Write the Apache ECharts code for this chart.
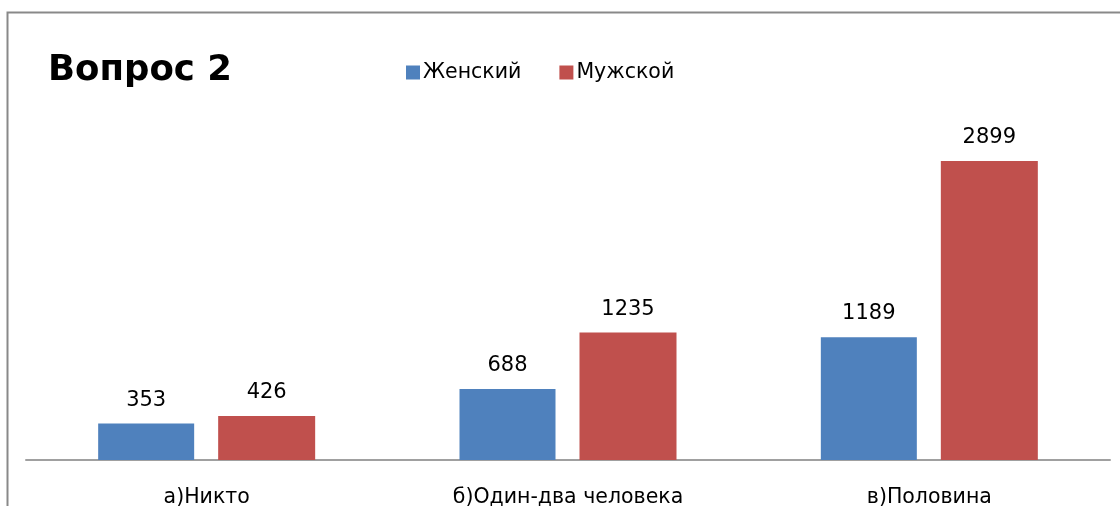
<!DOCTYPE html>
<html><head><meta charset="utf-8">
<script src="https://cdn.jsdelivr.net/npm/echarts@6/dist/echarts.min.js"></script>
<style>html,body{margin:0;padding:0;background:#fff}#c{width:1120px;height:506px}</style>
</head><body><div id="c"></div>
<script>
const categories = ['а)Никто', 'б)Один-два человека', 'в)Половина'];
const female = [353, 688, 1189];
const male = [426, 1235, 2899];
const seriesNames = ['Женский', 'Мужской'];

const chart = echarts.init(document.getElementById('c'));
const font = '"DejaVu Sans", sans-serif';
const lbl = {show: true, position: 'top', distance: 13, color: '#000', fontSize: 21, fontFamily: font};
chart.setOption({
  animation: false,
  backgroundColor: '#fff',
  graphic: [{type: 'rect', shape: {x: 7.5, y: 12.5, width: 1130, height: 520}, style: {fill: null, stroke: '#898989', lineWidth: 2}, z: -1}],
  title: {text: 'Вопрос 2', left: 43, top: 48, textStyle: {fontFamily: font, fontWeight: 'bold', fontSize: 35.5, color: '#000'}},
  legend: {left: 401, top: 57, itemWidth: 14, itemHeight: 14, itemGap: 38, icon: 'rect',
    textStyle: {fontFamily: font, fontSize: 20.5, color: '#000', padding: [0,0,0,-2]}, data: seriesNames},
  grid: {left: 26, right: 10, top: 99, bottom: 46, outerBoundsMode: 'none', containLabel: false},
  xAxis: {type: 'category', data: categories, axisLine: {lineStyle: {color: '#a0a0a0', width: 2}}, axisTick: {show: false},
    axisLabel: {color: '#000', fontSize: 20.5, fontFamily: font, margin: 27}},
  yAxis: {type: 'value', min: 0, max: 3500, show: false, splitLine: {show: false}},
  series: [
    {name: seriesNames[0], type: 'bar', data: female, itemStyle: {color: '#4F81BD'}, barWidth: 96, barGap: '25%', label: lbl},
    {name: seriesNames[1], type: 'bar', data: male, itemStyle: {color: '#C0504D'}, barWidth: 97, label: lbl}
  ]
});
</script></body></html>
